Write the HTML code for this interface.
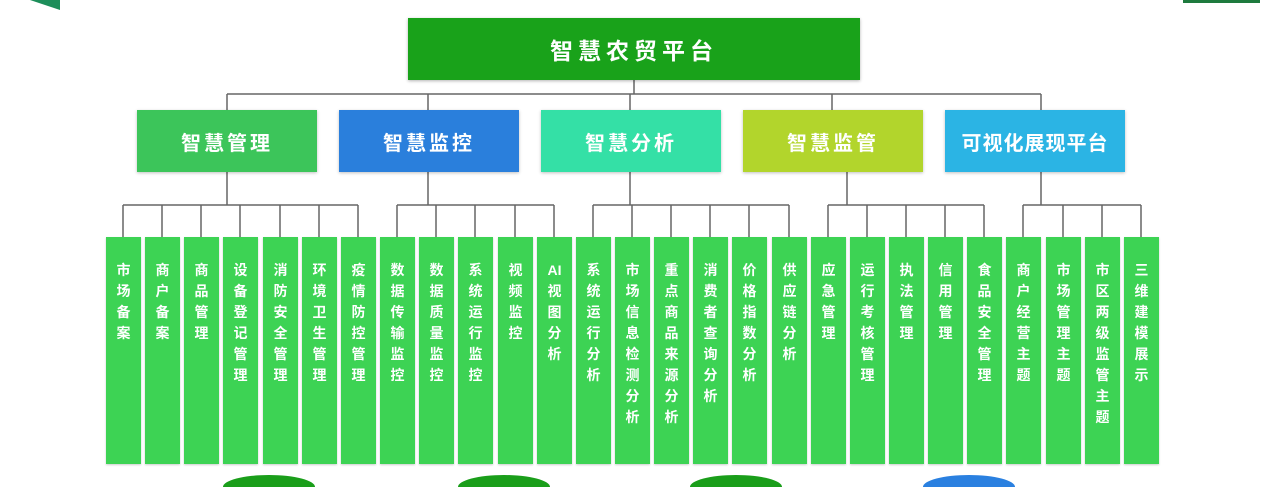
<!DOCTYPE html>
<html style="height:487px;overflow:hidden"><head><meta charset="utf-8"><style>
body{margin:0;width:1277px;height:487px;background:#fff;position:relative;overflow:hidden;font-family:"Liberation Sans","Noto Sans CJK SC",sans-serif}
.b{position:absolute;color:#fff;font-weight:bold;display:flex;align-items:center;justify-content:center;box-sizing:border-box}
.top{left:408px;top:18px;width:452px;height:62px;background:#19a21a;font-size:23px;letter-spacing:5px;box-shadow:0 1px 3px rgba(0,0,0,.3)}
.cat{top:110px;width:180px;height:62px;font-size:20px;letter-spacing:3px;box-shadow:0 1px 3px rgba(0,0,0,.25)}
.l{position:absolute;top:237px;width:35px;height:227px;background:#3dd354;color:#fff;font-weight:bold;font-size:14px;line-height:21px;text-align:center;padding-top:23px;box-sizing:border-box;box-shadow:0 1px 2px rgba(0,0,0,.2)}
.c{position:absolute;top:475px;width:92px;height:12px;border-radius:46px 46px 0 0/12px 12px 0 0;overflow:hidden}
</style></head><body>
<div style="position:absolute;left:30px;top:0;width:0;height:0;border-left:30px solid transparent;border-top:10px solid #1d8e5a"></div>
<div style="position:absolute;left:1183px;top:0;width:77px;height:3px;background:#1e7a3e"></div>
<svg width="1277" height="487" style="position:absolute;left:0;top:0" fill="none" stroke="#666" stroke-width="1.5">
<path d="M634 80V94M227 94H1041M227 94V110M428 94V110M630 94V110M832 94V110M1041 94V110"/>
<path d="M227 172V205M123 205H358M123 205V237M162 205V237M201 205V237M240 205V237M280 205V237M319 205V237M358 205V237"/>
<path d="M428 172V205M397 205H554M397 205V237M436 205V237M475 205V237M515 205V237M554 205V237"/>
<path d="M630 172V205M593 205H789M593 205V237M632 205V237M671 205V237M710 205V237M749 205V237M789 205V237"/>
<path d="M847 172V205M828 205H984M828 205V237M867 205V237M906 205V237M945 205V237M984 205V237"/>
<path d="M1041 172V205M1023 205H1141M1023 205V237M1063 205V237M1102 205V237M1141 205V237"/>
</svg>
<div class="b top">智慧农贸平台</div>
<div class="b cat" style="left:137px;background:#3cc55a">智慧管理</div>
<div class="b cat" style="left:339px;background:#2a7fdc">智慧监控</div>
<div class="b cat" style="left:541px;background:#34e0a6">智慧分析</div>
<div class="b cat" style="left:743px;background:#b2d52c">智慧监管</div>
<div class="b cat" style="left:945px;background:#2bb4e4;letter-spacing:1px">可视化展现平台</div>
<div class="l" style="left:106px">市<br>场<br>备<br>案</div>
<div class="l" style="left:145px">商<br>户<br>备<br>案</div>
<div class="l" style="left:184px">商<br>品<br>管<br>理</div>
<div class="l" style="left:223px">设<br>备<br>登<br>记<br>管<br>理</div>
<div class="l" style="left:263px">消<br>防<br>安<br>全<br>管<br>理</div>
<div class="l" style="left:302px">环<br>境<br>卫<br>生<br>管<br>理</div>
<div class="l" style="left:341px">疫<br>情<br>防<br>控<br>管<br>理</div>
<div class="l" style="left:380px">数<br>据<br>传<br>输<br>监<br>控</div>
<div class="l" style="left:419px">数<br>据<br>质<br>量<br>监<br>控</div>
<div class="l" style="left:458px">系<br>统<br>运<br>行<br>监<br>控</div>
<div class="l" style="left:498px">视<br>频<br>监<br>控</div>
<div class="l" style="left:537px">AI<br>视<br>图<br>分<br>析</div>
<div class="l" style="left:576px">系<br>统<br>运<br>行<br>分<br>析</div>
<div class="l" style="left:615px">市<br>场<br>信<br>息<br>检<br>测<br>分<br>析</div>
<div class="l" style="left:654px">重<br>点<br>商<br>品<br>来<br>源<br>分<br>析</div>
<div class="l" style="left:693px">消<br>费<br>者<br>查<br>询<br>分<br>析</div>
<div class="l" style="left:732px">价<br>格<br>指<br>数<br>分<br>析</div>
<div class="l" style="left:772px">供<br>应<br>链<br>分<br>析</div>
<div class="l" style="left:811px">应<br>急<br>管<br>理</div>
<div class="l" style="left:850px">运<br>行<br>考<br>核<br>管<br>理</div>
<div class="l" style="left:889px">执<br>法<br>管<br>理</div>
<div class="l" style="left:928px">信<br>用<br>管<br>理</div>
<div class="l" style="left:967px">食<br>品<br>安<br>全<br>管<br>理</div>
<div class="l" style="left:1006px">商<br>户<br>经<br>营<br>主<br>题</div>
<div class="l" style="left:1046px">市<br>场<br>管<br>理<br>主<br>题</div>
<div class="l" style="left:1085px">市<br>区<br>两<br>级<br>监<br>管<br>主<br>题</div>
<div class="l" style="left:1124px">三<br>维<br>建<br>模<br>展<br>示</div>
<div class="c" style="left:223px;background:#1a9e1a"></div>
<div class="c" style="left:458px;background:#1a9e1a"></div>
<div class="c" style="left:690px;background:#1a9e1a"></div>
<div class="c" style="left:923px;background:#2a80e0"></div>
</body></html>
